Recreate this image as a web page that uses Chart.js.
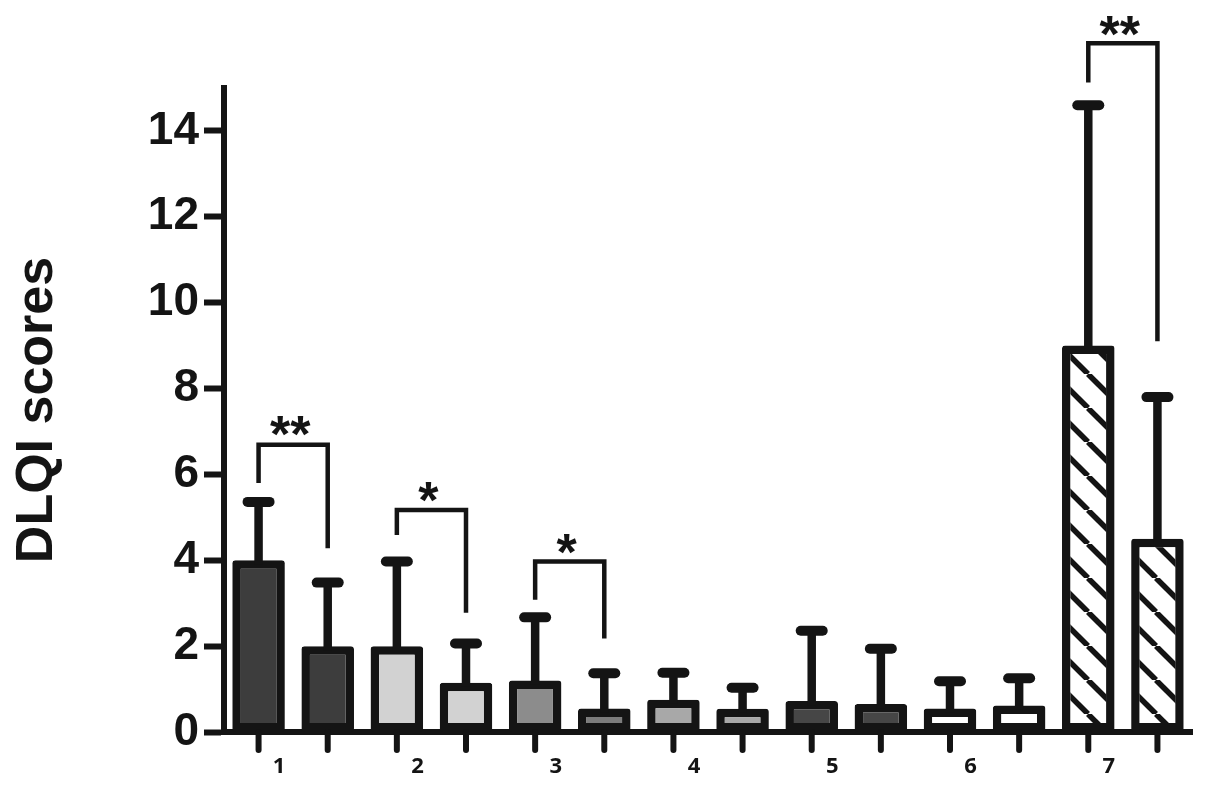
<!DOCTYPE html>
<html>
	<head>
		<title>DLQI scores</title>
		<meta charset="utf-8"/>
		<script src="https://cdn.jsdelivr.net/npm/chart.js@4.4.1/dist/chart.umd.min.js"></script>
		<style>
			html, body { margin: 0; padding: 0; background: #ffffff; }
			#wrap { position: relative; width: 1205px; height: 794px; }
		</style>
	</head>
	<body>
		<div id="wrap"><canvas id="dlqi_chart"></canvas></div>
		<script>
			// x axis groups
			const categories = ['1', '2', '3', '4', '5', '6', '7'];
			// mean scores, left and right bar of every pair
			const firstMeans  = [4.0, 2.0, 1.2, 0.75, 0.72, 0.55, 9.0];
			const secondMeans = [2.0, 1.15, 0.55, 0.54, 0.65, 0.62, 4.5];
			// upper error bars (SD)
			const firstSD  = [1.36, 1.97, 1.47, 0.63, 1.64, 0.63, 5.6];
			const secondSD = [1.48, 0.91, 0.82, 0.49, 1.29, 0.63, 3.3];
			// y axis ticks
			const yTicks = [0, 2, 4, 6, 8, 10, 12, 14];
			// significance brackets (group index, mark, heights in score units)
			const sigGroups   = [0, 1, 2, 6];
			const sigMarks    = ['**', '*', '*', '**'];
			const sigTop      = [6.69, 5.17, 3.97, 16.04];
			const sigLeftEnd  = [5.8, 4.59, 3.08, 15.13];
			const sigRightEnd = [4.28, 2.78, 2.18, 9.1];
			const sigMarkAt   = [7.18, 5.64, 4.43, 16.5];

			const INK = '#141414';
			const STAR_SIZE = 52;

			function makeHatch()
			{
				const size = 34;
				const c = document.createElement('canvas');
				c.width = size;
				c.height = size;
				const g = c.getContext('2d');
				g.fillStyle = '#ffffff';
				g.fillRect(0, 0, size, size);
				g.strokeStyle = INK;
				g.lineWidth = 5.5;
				for (let x0 = -size; x0 <= size; x0 += size)
				{
					g.beginPath();
					g.moveTo(x0, 0);
					g.lineTo(x0 + size, size);
					g.stroke();
				}
				return g.createPattern(c, 'repeat');
			}

			const hatch = makeHatch();
			const firstFill  = ['#3d3d3d', '#d2d2d2', '#8c8c8c', '#a8a8a8', '#464646', '#ffffff', hatch];
			const secondFill = ['#3d3d3d', '#d2d2d2', '#7c7c7c', '#a8a8a8', '#464646', '#ffffff', hatch];

			// error bars, x ticks under every bar, significance brackets
			const extras = {
				id: 'extras',
				afterDatasetsDraw(chart)
				{
					const ctx = chart.ctx;
					const y = chart.scales.y;
					const sds = [firstSD, secondSD];
					ctx.save();
					ctx.strokeStyle = INK;
					chart.data.datasets.forEach((ds, d) => {
						chart.getDatasetMeta(d).data.forEach((bar, i) => {
							const top = y.getPixelForValue(ds.data[i] + sds[d][i]);
							ctx.lineCap = 'butt';
							ctx.lineWidth = 8.5;
							ctx.beginPath();
							ctx.moveTo(bar.x, bar.y + 4);
							ctx.lineTo(bar.x, top);
							ctx.stroke();
							ctx.lineCap = 'round';
							ctx.lineWidth = 10;
							ctx.beginPath();
							ctx.moveTo(bar.x - 11, top);
							ctx.lineTo(bar.x + 11, top);
							ctx.stroke();
						});
					});
					ctx.restore();
				},
				afterDraw(chart)
				{
					const ctx = chart.ctx;
					const y = chart.scales.y;
					const bottom = chart.chartArea.bottom;
					const m0 = chart.getDatasetMeta(0).data;
					const m1 = chart.getDatasetMeta(1).data;
					ctx.save();
					ctx.strokeStyle = INK;
					ctx.fillStyle = INK;

					// ticks below the x axis
					ctx.lineWidth = 6;
					ctx.lineCap = 'round';
					m0.concat(m1).forEach(bar => {
						ctx.beginPath();
						ctx.moveTo(bar.x, bottom);
						ctx.lineTo(bar.x, bottom + 18);
						ctx.stroke();
					});

					// brackets and stars
					ctx.lineWidth = 4.5;
					ctx.lineCap = 'butt';
					ctx.lineJoin = 'miter';
					ctx.font = 'bold ' + STAR_SIZE + 'px "Liberation Sans"';
					ctx.textAlign = 'center';
					ctx.textBaseline = 'alphabetic';
					sigGroups.forEach((g, k) => {
						const lx = m0[g].x;
						const rx = m1[g].x;
						const ty = y.getPixelForValue(sigTop[k]);
						ctx.beginPath();
						ctx.moveTo(lx, y.getPixelForValue(sigLeftEnd[k]));
						ctx.lineTo(lx, ty);
						ctx.lineTo(rx, ty);
						ctx.lineTo(rx, y.getPixelForValue(sigRightEnd[k]));
						ctx.stroke();
						ctx.fillText(sigMarks[k], (lx + rx) / 2 - 3, y.getPixelForValue(sigMarkAt[k]) + 0.55 * STAR_SIZE);
					});
					ctx.restore();
				}
			};

			Init();

			function Init()
			{
				const ctx = document.getElementById('dlqi_chart').getContext('2d');
				const chart_data =
				{
					labels: categories,
					datasets:
					[
						{
							label: 'first',
							data: firstMeans,
							backgroundColor: firstFill
						},
						{
							label: 'second',
							data: secondMeans,
							backgroundColor: secondFill
						}
					]
				};

				const config =
				{
					type: 'bar',
					data: chart_data,
					plugins: [extras],
					options:
					{
						responsive: true,
						maintainAspectRatio: false,
						animation: false,
						layout: { padding: { top: 88, right: 13, left: 0, bottom: 0 } },
						datasets:
						{
							bar:
							{
								categoryPercentage: 1,
								barPercentage: 0.76,
								borderColor: INK,
								borderWidth: 8.5,
								borderSkipped: false,
								borderRadius: 3
							}
						},
						plugins:
						{
							legend: { display: false },
							tooltip: { enabled: false }
						},
						scales:
						{
							x:
							{
								grid: { display: false, drawTicks: false },
								border: { display: true, color: INK, width: 6 },
								ticks:
								{
									color: INK,
									font: { family: '"Open Sans"', size: 22, weight: 'bold' },
									padding: 22,
									labelOffset: -14,
									maxRotation: 0
								},
								afterFit: scale => { scale.height = 62; }
							},
							y:
							{
								min: 0,
								max: 15,
								afterBuildTicks: scale => { scale.ticks = yTicks.map(v => ({ value: v })); },
								grid:
								{
									drawOnChartArea: false,
									drawTicks: true,
									tickLength: 20,
									tickWidth: 6,
									tickColor: INK
								},
								border: { display: true, color: INK, width: 6 },
								ticks:
								{
									color: INK,
									font: { family: '"Liberation Sans"', size: 46, weight: 'bold' },
									padding: 5
								},
								title:
								{
									display: true,
									text: 'DLQI scores',
									color: INK,
									font: { family: '"Liberation Sans"', size: 52, weight: 'bold' },
									padding: { top: 6, bottom: 0 }
								},
								afterFit: scale => { scale.width = 224; }
							}
						}
					}
				};

				new Chart(ctx, config);
			}
		</script>
	</body>
</html>
